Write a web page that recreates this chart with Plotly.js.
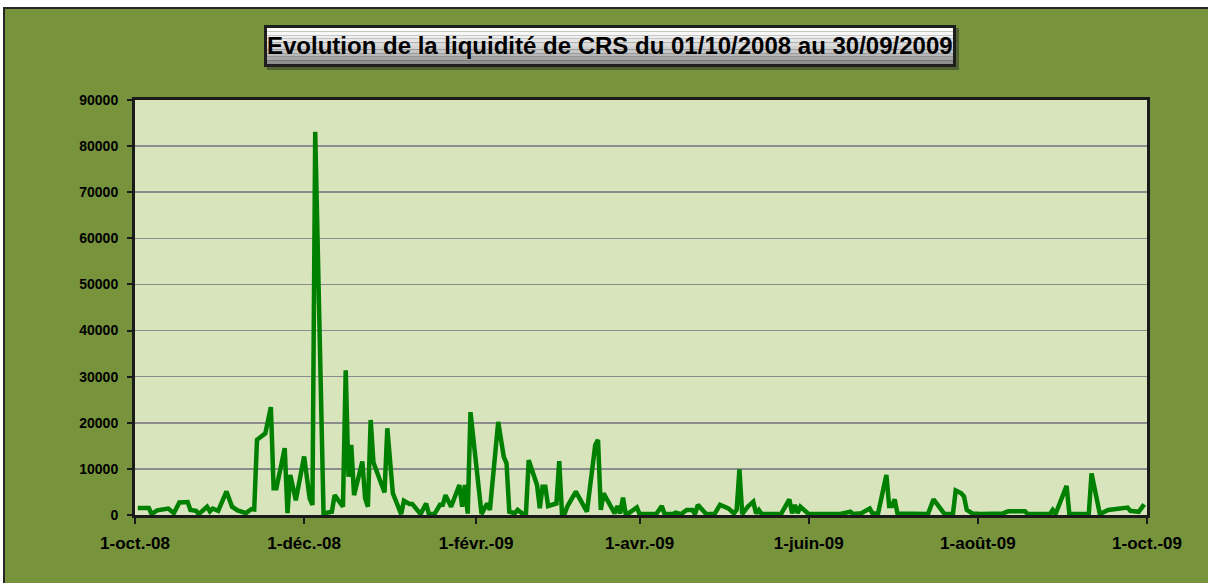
<!DOCTYPE html>
<html>
<head>
<meta charset="utf-8">
<script src="https://cdn.plot.ly/plotly-3.0.1.min.js"></script>
<style>
  html, body { margin: 0; padding: 0; background: #ffffff; width: 1208px; height: 583px; overflow: hidden; }
  #chart { position: absolute; left: 3px; top: 7px; width: 1203px; height: 574px;
           border-top: 2px solid #262626; border-left: 2px solid #262626; }
</style>
</head>
<body>
<div id="chart"></div>
<script>
const chartTitle = "Evolution de la liquidité de CRS du 01/10/2008 au 30/09/2009";

const dates = [
  "2008-10-02","2008-10-06","2008-10-07","2008-10-09","2008-10-13","2008-10-15","2008-10-17","2008-10-20",
  "2008-10-21","2008-10-23","2008-10-24","2008-10-27","2008-10-28","2008-10-29","2008-10-31",
  "2008-11-03","2008-11-05","2008-11-07","2008-11-10","2008-11-12","2008-11-13","2008-11-14","2008-11-17",
  "2008-11-19","2008-11-20","2008-11-21","2008-11-24","2008-11-25","2008-11-26","2008-11-28",
  "2008-12-01","2008-12-03","2008-12-04","2008-12-05","2008-12-08","2008-12-11","2008-12-12","2008-12-15",
  "2008-12-16","2008-12-17","2008-12-18","2008-12-19","2008-12-22","2008-12-23","2008-12-24","2008-12-25",
  "2008-12-26","2008-12-30","2008-12-31",
  "2009-01-02","2009-01-05","2009-01-06","2009-01-08","2009-01-09","2009-01-12","2009-01-14","2009-01-15",
  "2009-01-17","2009-01-19","2009-01-20","2009-01-21","2009-01-23","2009-01-26","2009-01-27","2009-01-28",
  "2009-01-29","2009-01-30",
  "2009-02-03","2009-02-05","2009-02-06","2009-02-09","2009-02-11","2009-02-12","2009-02-13","2009-02-15",
  "2009-02-16","2009-02-18","2009-02-19","2009-02-20","2009-02-23","2009-02-24","2009-02-25","2009-02-26",
  "2009-02-27",
  "2009-03-02","2009-03-03","2009-03-04","2009-03-05","2009-03-06","2009-03-09","2009-03-13","2009-03-16",
  "2009-03-17","2009-03-18","2009-03-19","2009-03-21","2009-03-23","2009-03-24","2009-03-25","2009-03-26",
  "2009-03-27","2009-03-28","2009-03-31",
  "2009-04-01","2009-04-07","2009-04-09","2009-04-10","2009-04-13","2009-04-14","2009-04-16","2009-04-18",
  "2009-04-20","2009-04-21","2009-04-22","2009-04-24","2009-04-25","2009-04-28","2009-04-30",
  "2009-05-03","2009-05-05","2009-05-06","2009-05-07","2009-05-08","2009-05-10","2009-05-12","2009-05-13",
  "2009-05-14","2009-05-15","2009-05-22","2009-05-25","2009-05-26","2009-05-27","2009-05-28","2009-05-29",
  "2009-06-01","2009-06-05","2009-06-06","2009-06-08","2009-06-12","2009-06-16","2009-06-17","2009-06-20",
  "2009-06-23","2009-06-24","2009-06-26","2009-06-29","2009-06-30",
  "2009-07-01","2009-07-02","2009-07-03","2009-07-06","2009-07-08","2009-07-14","2009-07-16","2009-07-20",
  "2009-07-23","2009-07-24","2009-07-26","2009-07-27","2009-07-28","2009-07-30",
  "2009-08-02","2009-08-10","2009-08-12","2009-08-18","2009-08-19","2009-08-27","2009-08-28","2009-08-29",
  "2009-09-02","2009-09-03","2009-09-10","2009-09-11","2009-09-14","2009-09-17","2009-09-24","2009-09-25",
  "2009-09-28","2009-09-30"
];

const liquidite = [
  1500,1500,200,1000,1400,400,2700,2800,
  1100,900,200,1800,800,1400,900,
  5100,1800,1000,400,1300,1200,16300,17700,
  23400,5800,5800,14500,400,8700,3200,
  12700,3600,2200,83100,350,700,4300,1800,
  31400,8300,15200,4300,11600,3600,1800,20600,
  11400,4900,18800,
  4700,200,3100,2400,2400,200,2500,200,
  200,2200,2200,4300,1800,6500,1800,6500,
  300,22300,
  200,2500,1100,20200,12600,11200,700,400,
  1100,200,200,11900,6500,1450,6150,6150,
  1950,
  2500,11700,350,350,1950,5050,700,15200,
  16300,1100,4700,2400,350,1950,350,3750,
  200,350,1650,
  200,200,1950,200,200,500,200,1100,
  1100,200,2200,700,200,200,2200,
  1450,350,1100,9900,200,1800,2900,350,
  1100,200,200,3400,350,2200,400,1800,
  200,200,400,200,200,700,200,400,
  1400,350,350,8700,1950,
  1950,3400,350,350,200,200,3400,200,
  200,5300,4700,4000,1100,350,
  200,350,800,800,200,200,1100,200,
  6300,200,200,9000,200,1100,1600,900,
  700,2300
];

const xTickVals = ["2008-10-01","2008-12-01","2009-02-01","2009-04-01","2009-06-01","2009-08-01","2009-10-01"];
const xTickText = ["1-oct.-08","1-déc.-08","1-févr.-09","1-avr.-09","1-juin-09","1-août-09","1-oct.-09"];
const yTickVals = [0,10000,20000,30000,40000,50000,60000,70000,80000,90000];
const yTickText = ["0","10000","20000","30000","40000","50000","60000","70000","80000","90000"];

const FONT = '"Liberation Sans Narrow", "Arial Narrow", "Liberation Sans", sans-serif';

const PW = 1012, PH = 415;
function px(x) { return x / PW; }
function py(y) { return y / PH; }
const bx0 = px(264 - 135), bx1 = px(956 - 135);
const by0 = py(515 - 67), by1 = py(515 - 25);

const shapes = [];
shapes.push({type:'rect', xref:'paper', yref:'paper', x0:bx0+px(3), x1:bx1+px(3), y0:by0-py(3), y1:by1-py(3),
             line:{width:0}, fillcolor:'rgba(40,40,40,0.45)', layer:'above'});
shapes.push({type:'rect', xref:'paper', yref:'paper', x0:bx0, x1:bx1, y0:by0, y1:by1,
             line:{width:0}, fillcolor:'#1e1e1e', layer:'above'});
const grads = ['#ffffff','#f7f7f7','#efefef','#e6e6e6','#dcdcdc','#d2d2d2','#c6c6c6','#b8b8b8','#a6a6a6','#8f8f8f'];
const ix0 = bx0 + px(3), ix1 = bx1 - px(3), iy0 = by0 + py(3), iy1 = by1 - py(3);
for (let i = 0; i < grads.length; i++) {
  const t0 = iy1 - (iy1 - iy0) * i / grads.length;
  const t1 = iy1 - (iy1 - iy0) * (i + 1) / grads.length;
  shapes.push({type:'rect', xref:'paper', yref:'paper', x0:ix0, x1:ix1, y0:t1, y1:t0,
               line:{width:0}, fillcolor:grads[i], layer:'above'});
}

const trace = {
  x: dates,
  y: liquidite,
  type: 'scatter',
  mode: 'lines',
  line: {color: '#008000', width: 4.5},
  hoverinfo: 'x+y'
};

const layout = {
  width: 1203,
  height: 574,
  margin: {l: 130, r: 61, t: 91, b: 68, pad: 0},
  paper_bgcolor: '#77933C',
  plot_bgcolor: '#D8E4BC',
  showlegend: false,
  font: {family: FONT, color: '#000000', size: 17},
  xaxis: {
    type: 'date',
    range: ['2008-10-01', '2009-10-01'],
    tickmode: 'array',
    tickvals: xTickVals,
    ticktext: xTickText,
    ticks: 'outside',
    ticklen: 6,
    tickwidth: 2,
    tickcolor: '#1a1a1a',
    ticklabelstandoff: 5,
    showgrid: false,
    zeroline: false,
    showline: true,
    linecolor: '#1a1a1a',
    linewidth: 3,
    mirror: true,
    tickfont: {family: FONT, size: 17, color: '#000000', weight: 'bold'}
  },
  yaxis: {
    range: [0, 90000],
    tickmode: 'array',
    tickvals: yTickVals,
    ticktext: yTickText,
    ticks: 'outside',
    ticklen: 5,
    tickwidth: 2,
    tickcolor: '#1a1a1a',
    ticklabelstandoff: 6,
    showgrid: true,
    gridcolor: '#8C8C8C',
    gridwidth: 1.5,
    zeroline: false,
    showline: true,
    linecolor: '#1a1a1a',
    linewidth: 3,
    mirror: true,
    tickfont: {family: FONT, size: 14, color: '#000000', weight: 'bold'}
  },
  shapes: shapes,
  annotations: [{
    xref: 'paper', yref: 'paper',
    x: (bx0 + bx1) / 2, y: (by0 + by1) / 2,
    xanchor: 'center', yanchor: 'middle',
    text: '<b>' + chartTitle + '</b>',
    showarrow: false,
    font: {family: FONT, size: 24, color: '#000000'}
  }]
};

Plotly.newPlot('chart', [trace], layout, {displayModeBar: false, staticPlot: true});
</script>
</body>
</html>
